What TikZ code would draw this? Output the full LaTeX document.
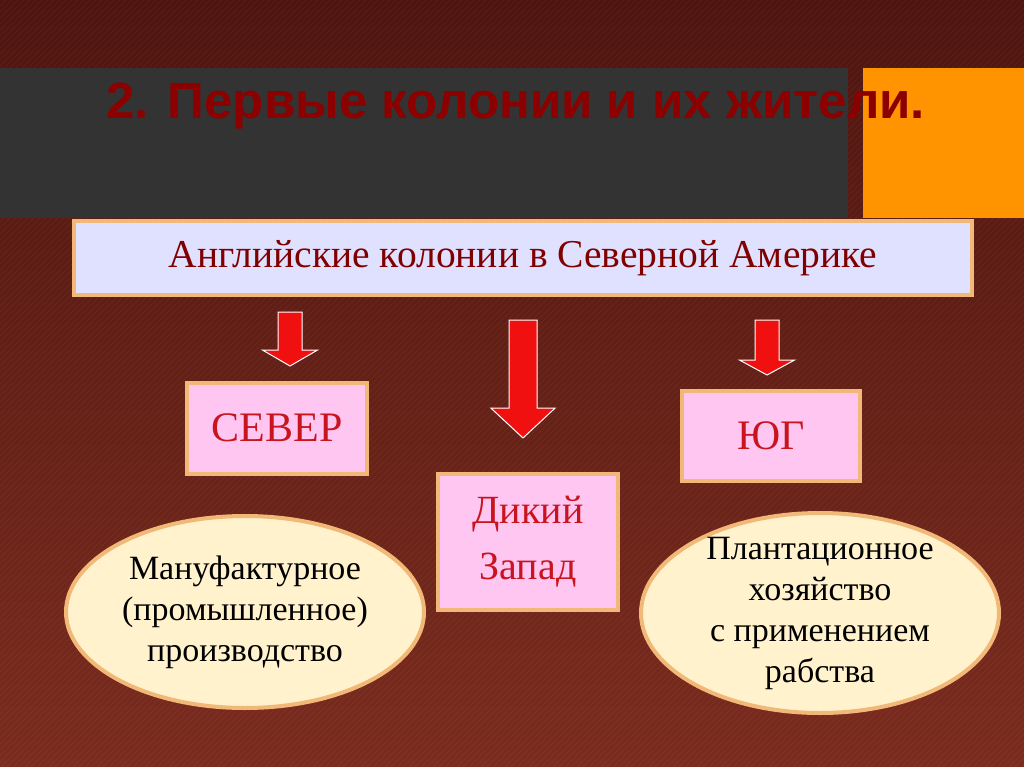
\documentclass[tikz,border=0pt]{standalone}
\usepackage{fontspec}
\setmainfont{Liberation Serif}
\newfontfamily\titlefont{Liberation Sans}
\usetikzlibrary{shapes.geometric}
\definecolor{bgA}{HTML}{4E1510}
\definecolor{bgB}{HTML}{7A2C1E}
\definecolor{frame}{HTML}{F2B877}
\definecolor{pinkbox}{HTML}{FFC6F2}
\definecolor{cream}{HTML}{FFF2CC}
\definecolor{txtred}{HTML}{C8141E}
\definecolor{arrowred}{HTML}{F01010}
\tikzset{
 box/.style={draw=frame,line width=4pt,fill=pinkbox,text=txtred,align=center,inner sep=0pt},
 oval/.style={draw=frame,line width=4pt,fill=cream,ellipse,inner sep=0pt},
 ovaltext/.style={align=center,font=\fontsize{34}{41}\selectfont},
 blockarrow/.style={fill=arrowred,draw=white,line width=1pt},
}
\newcommand{\downarr}[5]{% x, ytop, yneck, ytip, half shaft
 \draw[blockarrow] (#1-#5,#2) -- (#1+#5,#2) -- (#1+#5,#3) -- (#1+2.3*#5,#3) -- (#1,#4) -- (#1-2.3*#5,#3) -- (#1-#5,#3) -- cycle;}
\begin{document}
\begin{tikzpicture}[x=1pt,y=-1pt]
\useasboundingbox (0,0) rectangle (1024,767);
\shade[top color=bgA,bottom color=bgB] (0,0) rectangle (1024,767);
\foreach \i in {0,6,...,1790}{\draw[white,opacity=0.06,line width=0.6pt] (\i,0) -- (\i-767,767);}
\fill[black!80] (0,68) rectangle (848,218);
\fill[orange!85!yellow] (863,68) rectangle (1024,218);
\node[font=\titlefont\bfseries\fontsize{51}{58}\selectfont,text=red!55!black,anchor=west] (title) at (103,106) {2. Первые колонии и их жители.};
\node[draw=frame,line width=4pt,fill=blue!12!white,minimum width=898pt,minimum height=74pt,inner sep=0pt,text=red!50!black,font=\fontsize{39.5}{46}\selectfont] (top) at (523,258) {Английские колонии в Северной Америке};
\node[box,minimum width=180pt,minimum height=91pt,font=\fontsize{42}{48}\selectfont] (sever) at (277,428) {СЕВЕР};
\node[box,minimum width=178pt,minimum height=90pt,font=\fontsize{42}{48}\selectfont] (yug) at (771,436) {ЮГ};
\node[box,minimum width=180pt,minimum height=136pt,font=\fontsize{40}{56}\selectfont] (west) at (528,542) {Дикий\\Запад};
\downarr{290}{312}{350}{366}{12}
\downarr{523}{320}{408}{438}{14}
\downarr{767}{320}{360}{375}{12}
\node[oval,minimum width=358pt,minimum height=192pt] (e1) at (245,612) {};
\node[ovaltext] (t1) at (e1.center) {Мануфактурное\\(промышленное)\\производство};
\node[oval,minimum width=358pt,minimum height=200pt] (e2) at (820,613) {};
\node[ovaltext] (t2) at (e2.center) {Плантационное\\хозяйство\\с применением\\рабства};
\end{tikzpicture}
\end{document}
